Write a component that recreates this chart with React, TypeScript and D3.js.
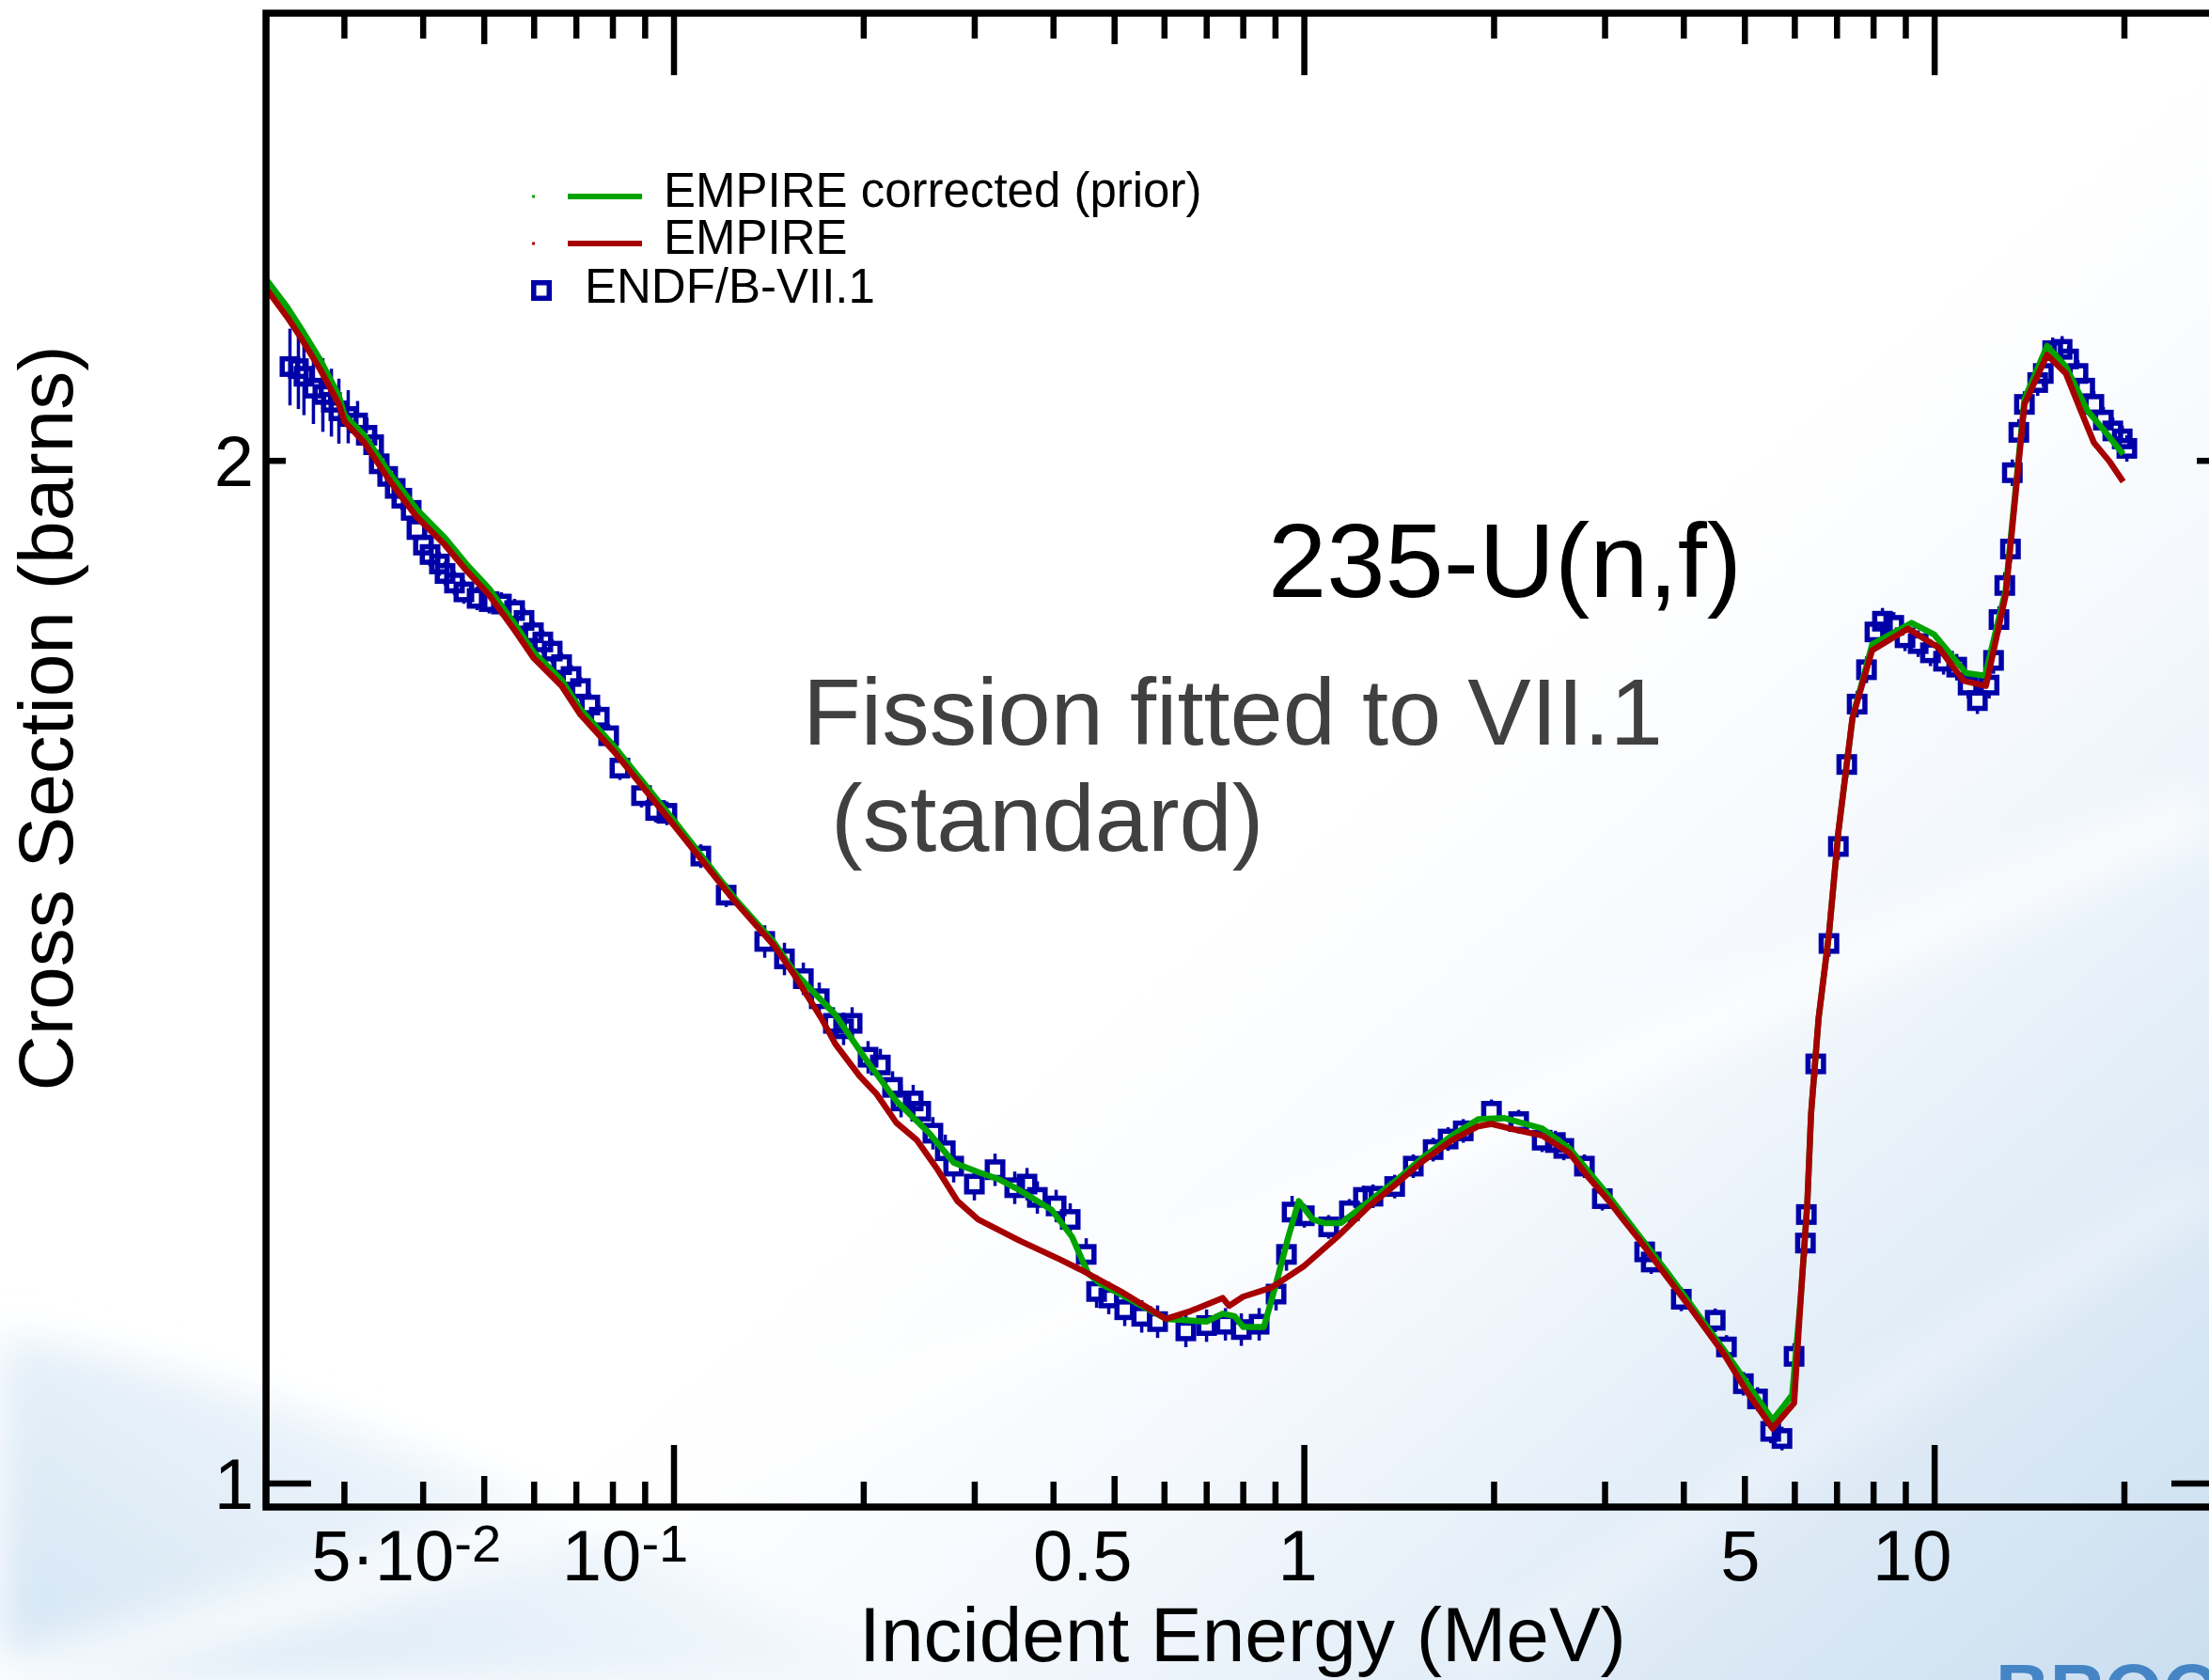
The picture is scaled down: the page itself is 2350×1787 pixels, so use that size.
import React from 'react';
import * as d3 from 'd3';

// ENDF/B-VII.1 evaluation: [incident energy (MeV), cross section (b), relative uncertainty (%)]
const endfPoints: [number, number, number][] = [
    [0.02459, 2.132, 2.6], [0.02536, 2.129, 2.7], [0.02588, 2.118, 2.6], [0.02679, 2.101, 2.4],
    [0.02773, 2.092, 2.5], [0.02861, 2.081, 2.3], [0.02940, 2.069, 2.2], [0.03042, 2.061, 1.8],
    [0.03148, 2.052, 1.5], [0.03258, 2.035, 1.2], [0.03338, 2.022, 0.9], [0.03407, 1.996, 0.9],
    [0.03514, 1.979, 0.9], [0.03612, 1.963, 0.9], [0.03700, 1.950, 0.8], [0.03829, 1.934, 0.8],
    [0.03910, 1.909, 0.8], [0.04004, 1.889, 0.8], [0.04102, 1.877, 0.8], [0.04245, 1.865, 0.8],
    [0.04333, 1.853, 0.8], [0.04485, 1.841, 0.8], [0.04642, 1.830, 0.8], [0.04871, 1.822, 0.8],
    [0.05091, 1.818, 0.8], [0.05324, 1.815, 0.8], [0.05587, 1.807, 0.8], [0.05782, 1.795, 0.8],
    [0.05984, 1.780, 0.8], [0.06193, 1.769, 0.8], [0.06409, 1.758, 0.8], [0.06633, 1.742, 0.8],
    [0.06866, 1.728, 0.8], [0.07106, 1.714, 0.8], [0.07354, 1.695, 0.8], [0.07612, 1.681, 0.8],
    [0.07877, 1.660, 0.8], [0.08208, 1.624, 0.8], [0.08882, 1.594, 0.8], [0.09352, 1.578, 0.8],
    [0.09745, 1.575, 0.8], [0.1103, 1.530, 0.8], [0.1210, 1.490, 0.8], [0.1393, 1.444, 1.1],
    [0.1497, 1.427, 1.1], [0.1604, 1.408, 1.1], [0.1700, 1.389, 1.1], [0.1790, 1.366, 1.1],
    [0.1858, 1.361, 1.1], [0.1917, 1.366, 1.1], [0.2032, 1.335, 1.1], [0.2125, 1.328, 1.1],
    [0.2222, 1.308, 1.1], [0.2292, 1.296, 1.1], [0.2396, 1.296, 1.1], [0.2463, 1.287, 1.1],
    [0.2575, 1.268, 1.1], [0.2694, 1.253, 1.1], [0.2778, 1.240, 1.1], [0.2996, 1.225, 1.1],
    [0.3231, 1.237, 1.1], [0.3472, 1.222, 1.1], [0.3631, 1.225, 1.1], [0.3771, 1.214, 1.1],
    [0.4039, 1.207, 1.1], [0.4252, 1.196, 1.1], [0.4508, 1.168, 1.1], [0.4682, 1.139, 1.1],
    [0.4895, 1.134, 1.1], [0.5189, 1.125, 1.1], [0.5521, 1.120, 1.1], [0.5851, 1.116, 1.1],
    [0.6487, 1.109, 1.1], [0.6997, 1.113, 1.1], [0.7496, 1.114, 1.1], [0.7944, 1.110, 1.1],
    [0.8479, 1.114, 1.1], [0.9020, 1.137, 1.1], [0.9369, 1.168, 1.1], [0.9563, 1.202, 1.1],
    [1.000, 1.199, 0.8], [1.093, 1.190, 0.8], [1.179, 1.203, 0.8], [1.241, 1.214, 0.8],
    [1.285, 1.215, 0.8], [1.391, 1.223, 0.8], [1.489, 1.240, 0.8], [1.601, 1.254, 0.8],
    [1.691, 1.263, 0.8], [1.787, 1.270, 0.8], [1.981, 1.287, 0.8], [2.188, 1.278, 0.8],
    [2.384, 1.262, 0.8], [2.502, 1.260, 0.8], [2.580, 1.255, 0.8], [2.782, 1.240, 0.8],
    [2.970, 1.213, 0.8], [3.467, 1.170, 0.8], [3.551, 1.162, 0.8], [3.963, 1.133, 0.8],
    [4.486, 1.117, 0.8], [4.674, 1.097, 0.8], [4.972, 1.070, 0.8], [5.236, 1.059, 0.8],
    [5.494, 1.036, 0.8], [5.725, 1.031, 0.8], [5.984, 1.090, 0.9], [6.237, 1.177, 0.9],
    [6.258, 1.200, 0.9], [6.477, 1.329, 0.9], [6.797, 1.442, 0.9], [7.034, 1.540, 0.9],
    [7.254, 1.628, 0.9], [7.534, 1.696, 0.9], [7.796, 1.736, 0.9], [8.040, 1.781, 0.9],
    [8.264, 1.794, 0.9], [8.612, 1.789, 0.9], [8.974, 1.774, 0.9], [9.416, 1.767, 0.9],
    [9.847, 1.756, 0.9], [10.33, 1.746, 0.9], [10.84, 1.739, 0.9], [11.30, 1.718, 0.9],
    [11.69, 1.700, 0.9], [12.20, 1.718, 0.9], [12.40, 1.747, 0.9], [12.65, 1.796, 0.9],
    [12.92, 1.838, 0.9], [13.19, 1.884, 0.9], [13.28, 1.984, 0.9], [13.60, 2.039, 0.9],
    [13.88, 2.078, 0.9], [14.57, 2.109, 0.9], [14.87, 2.122, 0.9], [15.39, 2.155, 0.9],
    [15.93, 2.157, 0.9], [16.31, 2.143, 0.9], [16.88, 2.122, 0.9], [17.30, 2.101, 0.9],
    [17.89, 2.078, 0.9], [18.52, 2.056, 0.9], [19.17, 2.041, 0.9], [19.84, 2.030, 0.9],
    [20.18, 2.017, 0.9]
];

// EMPIRE (red)
const empireEnergy = [
    0.02253, 0.02433, 0.02563, 0.02745, 0.02940, 0.03001, 0.03226, 0.03527, 0.03910, 0.04333,
    0.04705, 0.05091, 0.05587, 0.05984, 0.06633, 0.07106, 0.08040, 0.1006, 0.1244, 0.1441,
    0.1554, 0.1712, 0.1803, 0.1971, 0.2097, 0.2253, 0.2429, 0.2620, 0.2816, 0.3038,
    0.3533, 0.4095, 0.4416, 0.5119, 0.6035, 0.6600, 0.7418, 0.7597, 0.7999, 0.8867,
    1.000, 1.128, 1.268, 1.391, 1.531, 1.715, 1.888, 1.981, 2.159, 2.384,
    2.634, 2.830, 3.042, 3.203, 3.407, 3.751, 4.088, 4.627, 5.041, 5.530,
    5.984, 6.131, 6.280, 6.367, 6.545, 6.797, 7.034, 7.406, 7.958, 9.069,
    10.15, 11.11, 12.06, 12.96, 13.88, 15.08, 16.15, 17.06, 17.89, 18.91, 19.91
];
const empireXs = [
    2.248, 2.205, 2.173, 2.128, 2.078, 2.054, 2.025, 1.975, 1.925, 1.889,
    1.855, 1.826, 1.783, 1.750, 1.717, 1.684, 1.642, 1.560, 1.485, 1.440,
    1.411, 1.371, 1.347, 1.318, 1.302, 1.277, 1.262, 1.237, 1.211, 1.196,
    1.179, 1.164, 1.156, 1.139, 1.118, 1.124, 1.134, 1.128, 1.135, 1.142,
    1.159, 1.182, 1.207, 1.224, 1.243, 1.262, 1.274, 1.276, 1.271, 1.266,
    1.251, 1.230, 1.211, 1.196, 1.179, 1.151, 1.127, 1.092, 1.064, 1.038,
    1.056, 1.134, 1.209, 1.285, 1.371, 1.451, 1.555, 1.680, 1.759, 1.785,
    1.762, 1.723, 1.717, 1.826, 2.078, 2.149, 2.122, 2.069, 2.025, 2.000, 1.972
];

// EMPIRE corrected (prior), green
const correctedEnergy = [
    0.02253, 0.02433, 0.02563, 0.02745, 0.02940, 0.03001, 0.03226, 0.03527, 0.03910, 0.04333,
    0.04705, 0.05091, 0.05587, 0.05984, 0.06633, 0.07106, 0.08040, 0.1006, 0.1244, 0.1441,
    0.1554, 0.1648, 0.1803, 0.2005, 0.2253, 0.2541, 0.2778, 0.3038, 0.3276, 0.3533,
    0.3970, 0.4281, 0.4539, 0.4747, 0.5521, 0.6035, 0.6997, 0.7418, 0.7757, 0.7999,
    0.8628, 0.9020, 0.9433, 0.9796, 1.031, 1.079, 1.143, 1.268, 1.391, 1.531,
    1.715, 1.888, 2.078, 2.384, 2.634, 3.042, 3.751, 4.627, 5.530, 5.762,
    5.943, 6.131, 6.280, 6.367, 6.545, 6.797, 7.034, 7.406, 7.958, 9.194,
    9.980, 11.22, 12.02, 12.96, 13.88, 15.08, 16.15, 17.48, 18.52, 19.91
];
const correctedXs = [
    2.262, 2.220, 2.187, 2.142, 2.090, 2.063, 2.035, 1.985, 1.935, 1.898,
    1.863, 1.834, 1.791, 1.757, 1.724, 1.690, 1.648, 1.565, 1.488, 1.443,
    1.414, 1.398, 1.374, 1.335, 1.296, 1.268, 1.243, 1.235, 1.229, 1.220,
    1.204, 1.182, 1.153, 1.145, 1.128, 1.118, 1.116, 1.122, 1.120, 1.112,
    1.112, 1.145, 1.182, 1.211, 1.196, 1.193, 1.193, 1.211, 1.227, 1.246,
    1.266, 1.280, 1.281, 1.272, 1.255, 1.215, 1.155, 1.095, 1.044, 1.054,
    1.062, 1.134, 1.209, 1.285, 1.371, 1.451, 1.555, 1.680, 1.766, 1.792,
    1.778, 1.732, 1.729, 1.832, 2.085, 2.162, 2.132, 2.069, 2.043, 2.009
];

const xMajorTicks = [0.1, 1, 10];
const xMidTicks = [0.05, 0.5, 5];
const xMinorTicks = [0.03, 0.04, 0.06, 0.07, 0.08, 0.09, 0.2, 0.3, 0.4, 0.6, 0.7, 0.8, 0.9, 2, 3, 4, 6, 7, 8, 9, 20];
const xLabelValues = [0.05, 0.1, 0.5, 1, 5, 10];
const xLabelBase = ['5\u00b710', '10', '0.5', '1', '5', '10'];
const xLabelExp = ['-2', '-1', '', '', '', ''];
const yMajorTicks = [1];
const yMinorTicks = [2];
const yLabelValues = [1, 2];

const legendLabels = ['EMPIRE corrected (prior)', 'EMPIRE', 'ENDF/B-VII.1'];

const FONT = '"Liberation Sans", Arial, Helvetica, sans-serif';
const BLUE = '#0000a8';
const GREEN = '#00a300';
const RED = '#a60000';

export default function App()
{
    const W = 2350;
    const H = 1787;
    const m = {left: 283, right: 2358, top: 14, bottom: 1603};

    const xScale = d3.scaleLog().domain([0.02253, 28.0]).range([m.left, m.right]);
    const yScale = d3.scaleLog().domain([0.9842, 2.709]).range([m.bottom, m.top]);

    const line = d3.line<[number, number]>()
        .x(d => xScale(d[0]))
        .y(d => yScale(d[1]));

    const empirePath = line(empireEnergy.map((e, i) => [e, empireXs[i]] as [number, number])) || '';
    const correctedPath = line(correctedEnergy.map((e, i) => [e, correctedXs[i]] as [number, number])) || '';

    // ticks drawn inward on both opposite axes
    const xTickLen = {major: 66, mid: 33, minor: 27};
    const yTickLen = {major: 48, minor: 21};
    const xShift = [-83, -52, -34, -7, -5, -24];

    const xTick = (v: number, len: number, key: string) =>
    {
        const px = xScale(v);
        return (
            <g key={key}>
                <line x1={px} x2={px} y1={m.bottom} y2={m.bottom - len}/>
                <line x1={px} x2={px} y1={m.top} y2={m.top + len}/>
            </g>
        );
    };

    const yTick = (v: number, len: number, key: string) =>
    {
        const py = yScale(v);
        return (
            <g key={key}>
                <line x1={m.left} x2={m.left + len} y1={py} y2={py}/>
                <line x1={m.right} x2={m.right - len} y1={py} y2={py}/>
            </g>
        );
    };

    const half = 8.25;
    const squares = endfPoints.map((d, i) =>
    {
        const cx = xScale(d[0]);
        const cy = yScale(d[1]);
        const up = yScale(d[1] * (1 + d[2] / 100));
        const down = yScale(d[1] * (1 - d[2] / 100));
        return (
            <g key={i}>
                {up < cy - half && <line x1={cx} x2={cx} y1={cy - half} y2={up} strokeWidth={3.5}/>}
                {down > cy + half && <line x1={cx} x2={cx} y1={cy + half} y2={down} strokeWidth={3.5}/>}
                <rect x={cx - half} y={cy - half} width={half * 2} height={half * 2} fill="none" strokeWidth={5.5}/>
            </g>
        );
    });

    return (
        <svg width={W} height={H} viewBox={`0 0 ${W} ${H}`}
             style={{position: 'absolute', left: 0, top: 0, display: 'block', overflow: 'hidden'}}
             fontFamily={FONT}>
            <defs>
                <linearGradient id="bgRight" gradientUnits="userSpaceOnUse" x1="1500" y1="800" x2="2350" y2="1787">
                    <stop offset="0" stopColor="#ffffff"/>
                    <stop offset="0.3" stopColor="#f5f9fd"/>
                    <stop offset="1" stopColor="#cadef0"/>
                </linearGradient>
                <linearGradient id="bgLeft" gradientUnits="userSpaceOnUse" x1="350" y1="1400" x2="100" y2="1787">
                    <stop offset="0" stopColor="#f1f7fc"/>
                    <stop offset="1" stopColor="#d5e6f4"/>
                </linearGradient>
                <filter id="soft" x="-20%" y="-20%" width="140%" height="140%">
                    <feGaussianBlur stdDeviation="22"/>
                </filter>
                <clipPath id="plotClip">
                    <rect x={m.left} y={m.top} width={m.right - m.left} height={m.bottom - m.top}/>
                </clipPath>
            </defs>

            {/* slide background */}
            <rect x={0} y={0} width={W} height={H} fill="url(#bgRight)"/>
            <path d="M0,1420 C260,1460 620,1600 960,1787 L0,1787 Z" fill="url(#bgLeft)" filter="url(#soft)"/>
            <path d="M-50,1800 C300,1720 700,1590 1100,1420 C1450,1270 1800,1080 2350,860"
                  fill="none" stroke="#ffffff" strokeWidth={60} opacity={0.7} filter="url(#soft)"/>
            <path d="M1550,1787 C1800,1620 2080,1420 2350,1260"
                  fill="none" stroke="#ffffff" strokeWidth={36} opacity={0.4} filter="url(#soft)"/>
            <text x={2123} y={1826} fontSize={80} fontWeight="bold" fill="#4585c5" fontFamily={FONT}>BROOKHAVEN</text>

            {/* data */}
            <g clipPath="url(#plotClip)">
                <g stroke={BLUE}>{squares}</g>
                <path d={correctedPath} fill="none" stroke={GREEN} strokeWidth={6.5} strokeLinejoin="round"/>
                <path d={empirePath} fill="none" stroke={RED} strokeWidth={6.5} strokeLinejoin="round"/>
            </g>

            {/* frame and ticks */}
            <g stroke="#000" strokeWidth={6.5}>
                {xMajorTicks.map((v, i) => xTick(v, xTickLen.major, 'xM' + i))}
                {xMidTicks.map((v, i) => xTick(v, xTickLen.mid, 'xm' + i))}
                {xMinorTicks.map((v, i) => xTick(v, xTickLen.minor, 'xn' + i))}
                {yMajorTicks.map((v, i) => yTick(v, yTickLen.major, 'yM' + i))}
                {yMinorTicks.map((v, i) => yTick(v, yTickLen.minor, 'yn' + i))}
            </g>
            <rect x={m.left} y={m.top} width={m.right - m.left} height={m.bottom - m.top}
                  fill="none" stroke="#000" strokeWidth={7.5}/>

            {/* tick labels */}
            <g fontSize={76} fill="#000">
                {xLabelValues.map((v, i) => (
                    <text key={i} x={xScale(v) + xShift[i]} y={1681} textAnchor="middle">
                        <tspan>{xLabelBase[i]}</tspan>
                        {xLabelExp[i] && <tspan dy={-20} fontSize={56}>{xLabelExp[i]}</tspan>}
                    </text>
                ))}
                {yLabelValues.map((v, i) => (
                    <text key={i} x={270} y={yScale(v) + 27} textAnchor="end">{v}</text>
                ))}
            </g>

            {/* axis titles */}
            <text x={1322} y={1767} fontSize={82} textAnchor="middle">Incident Energy (MeV)</text>
            <text transform="translate(77,764) rotate(-90)" fontSize={82} textAnchor="middle">Cross Section (barns)</text>

            {/* annotations */}
            <text x={1349} y={635} fontSize={112} fill="#000">235-U(n,f)</text>
            <text x={854} y={792} fontSize={101} fill="#404040">Fission fitted to VII.1</text>
            <text x={884} y={905} fontSize={101} fill="#404040">(standard)</text>

            {/* legend */}
            <g fontSize={51} fill="#000">
                <rect x={566} y={207.5} width={3} height={3} fill={GREEN}/>
                <line x1={604} x2={683} y1={209} y2={209} stroke={GREEN} strokeWidth={6}/>
                <text x={706} y={220}>{legendLabels[0]}</text>
                <rect x={566} y={257.5} width={3} height={3} fill={RED}/>
                <line x1={604} x2={683} y1={259} y2={259} stroke={RED} strokeWidth={6}/>
                <text x={706} y={270}>{legendLabels[1]}</text>
                <rect x={576 - half} y={309 - half} width={half * 2} height={half * 2}
                      fill="none" stroke={BLUE} strokeWidth={5.5}/>
                <text x={622} y={322}>{legendLabels[2]}</text>
            </g>
        </svg>
    );
}
